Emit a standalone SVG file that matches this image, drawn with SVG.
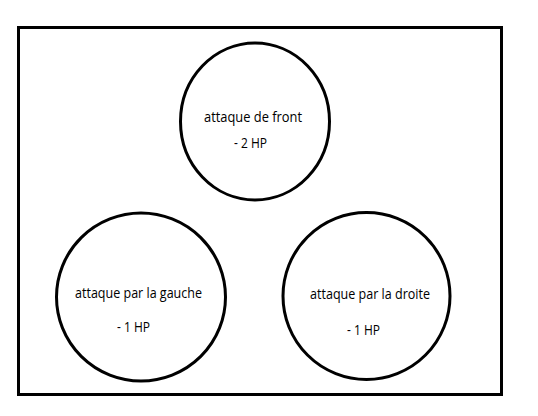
<svg xmlns="http://www.w3.org/2000/svg" width="538" height="416" viewBox="0 0 538 416">
<style>
.shape{fill:#fff;stroke:#000;stroke-width:3}
.frame{fill:#fff;stroke:#000;stroke-width:3}
text{font-family:"Open Sans","Liberation Sans",sans-serif;font-size:14px;fill:#000}
</style>
<rect width="538" height="416" fill="#fff"/>
<rect id="frame" class="frame" x="18.5" y="27.5" width="483" height="367"/>
<g id="connectors"></g>
<g id="node-front">
<ellipse class="shape" cx="255" cy="121.5" rx="74.5" ry="78.5"/>
<text x="204" y="122" textLength="98" lengthAdjust="spacingAndGlyphs">attaque de front</text>
<text x="234" y="148" textLength="33" lengthAdjust="spacingAndGlyphs">- 2 HP</text>
</g>
<g id="node-gauche">
<ellipse class="shape" cx="141" cy="297" rx="84.5" ry="84"/>
<text x="75" y="298" textLength="127" lengthAdjust="spacingAndGlyphs">attaque par la gauche</text>
<text x="117" y="332" textLength="33" lengthAdjust="spacingAndGlyphs">- 1 HP</text>
</g>
<g id="node-droite">
<ellipse class="shape" cx="366.5" cy="296" rx="83.5" ry="83.5"/>
<text x="310" y="299" textLength="120" lengthAdjust="spacingAndGlyphs">attaque par la droite</text>
<text x="347" y="335" textLength="33" lengthAdjust="spacingAndGlyphs">- 1 HP</text>
</g>
</svg>
